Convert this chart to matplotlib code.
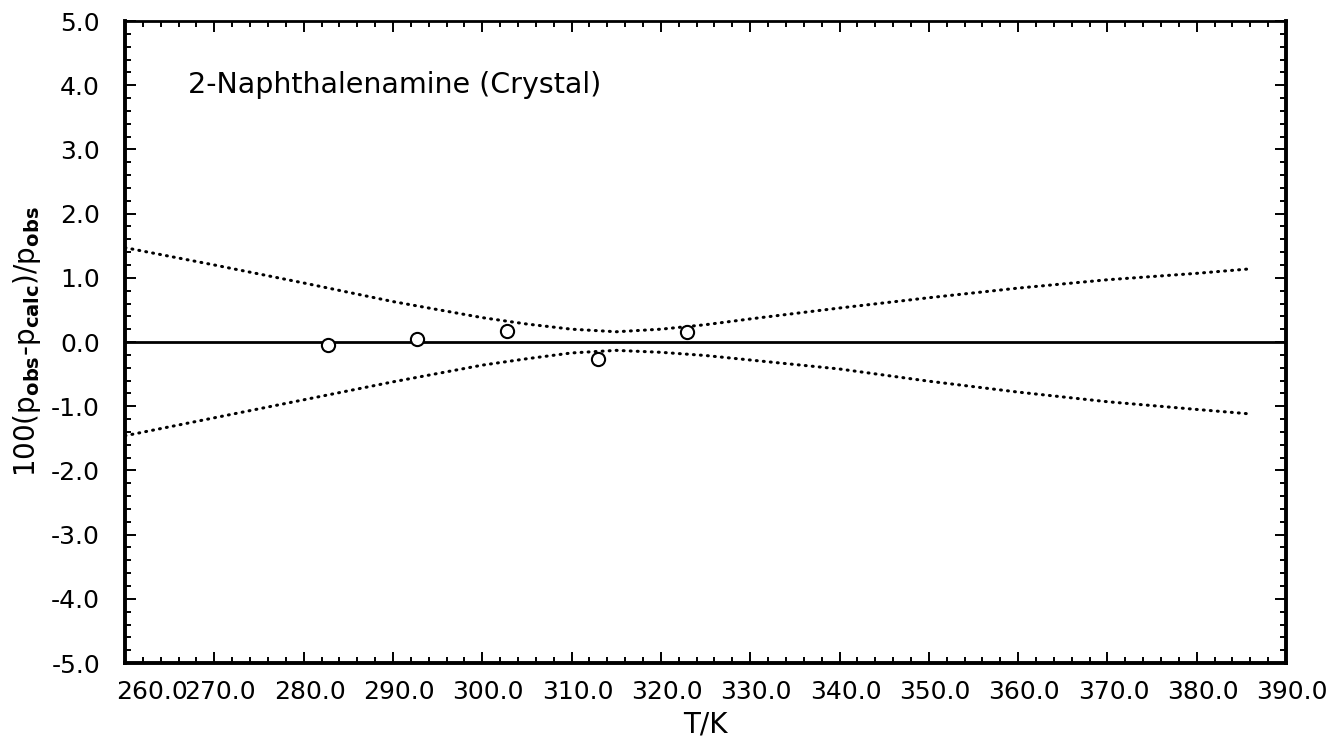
import matplotlib
matplotlib.use("Agg")
import matplotlib.pyplot as plt
from matplotlib.ticker import MultipleLocator
from matplotlib.transforms import ScaledTranslation

plt.rcParams['font.family'] = ['DejaVu Sans']
plt.rcParams['mathtext.fontset'] = 'dejavusans'

# Residuals of the vapour-pressure fit
T_obs = [282.7, 292.7, 302.8, 313.0, 322.9]
dev_obs = [-0.05, 0.05, 0.17, -0.26, 0.16]

# Uncertainty envelope of the fitted equation
T_env = [260, 270, 280, 290, 300, 305, 310, 315, 320, 325, 330, 340, 350, 360, 370, 380, 386]
env_upper = [1.47, 1.20, 0.92, 0.63, 0.38, 0.28, 0.20, 0.16, 0.20, 0.27, 0.36, 0.53, 0.69, 0.84, 0.97, 1.07, 1.14]
env_lower = [-1.46, -1.18, -0.90, -0.62, -0.36, -0.26, -0.17, -0.13, -0.16, -0.21, -0.28, -0.42, -0.61, -0.78, -0.93, -1.05, -1.12]

x_ticks = [260, 270, 280, 290, 300, 310, 320, 330, 340, 350, 360, 370, 380, 390]
y_ticks = [-5, -4, -3, -2, -1, 0, 1, 2, 3, 4, 5]

fig = plt.figure(figsize=(13.33, 7.40), dpi=100)
ax = fig.add_axes([0.0938, 0.104, 0.8710, 0.8676])

ax.axhline(0.0, color='black', lw=2.0, zorder=2)
dotted = (0, (0.3, 2.0))
ax.plot(T_env, env_upper, color='black', lw=2.2, linestyle=dotted,
        dash_capstyle='round', zorder=3)
ax.plot(T_env, env_lower, color='black', lw=2.2, linestyle=dotted,
        dash_capstyle='round', zorder=3)
ax.plot(T_obs, dev_obs, linestyle='none', marker='o', markersize=9.5,
        markerfacecolor='white', markeredgecolor='black', markeredgewidth=1.5, zorder=4)

ax.set_xlim(260, 390)
ax.set_ylim(-5, 5)

ax.set_xticks(x_ticks)
ax.set_xticklabels([f"{v:.1f}" for v in x_ticks])
ax.set_yticks(y_ticks)
ax.set_yticklabels([f"{v:.1f}" for v in y_ticks])
ax.xaxis.set_minor_locator(MultipleLocator(2))
ax.yaxis.set_minor_locator(MultipleLocator(0.2))

ax.tick_params(which='both', direction='in', top=True, right=True, width=1.4, color='black')
ax.tick_params(which='major', length=8)
ax.tick_params(which='minor', length=4)
ax.tick_params(axis='x', which='major', labelsize=18, pad=12)
ax.tick_params(axis='y', which='major', labelsize=18, pad=18)

# Tick labels sit a little right of their ticks; the first one is pushed
# inward so it stays clear of the axis corner
shift = ScaledTranslation(6 / 100, 0, fig.dpi_scale_trans)
xlabels = ax.get_xticklabels()
for lbl in xlabels[1:]:
    lbl.set_transform(lbl.get_transform() + shift)
xlabels[0].set_transform(xlabels[0].get_transform()
                         + ScaledTranslation(-9 / 100, 0, fig.dpi_scale_trans))
xlabels[0].set_horizontalalignment('left')

for side in ['left', 'bottom', 'right']:
    ax.spines[side].set_linewidth(2.8)
ax.spines['top'].set_linewidth(2.0)

ax.set_xlabel('T/K', fontsize=20, labelpad=5)
ax.set_ylabel(r'100(p$_{\mathbf{obs}}$-p$_{\mathbf{calc}}$)/p$_{\mathbf{obs}}$',
              fontsize=20, labelpad=6)

ax.text(0.054, 4.0, '2-Naphthalenamine (Crystal)', transform=ax.get_yaxis_transform(),
        fontsize=20.5, va='center', ha='left')

fig.savefig('out.png', dpi=100)
